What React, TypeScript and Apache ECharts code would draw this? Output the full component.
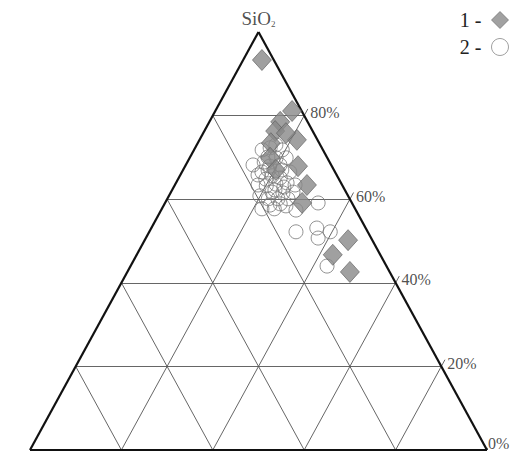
import React, { useEffect, useRef } from "react";
import * as echarts from "echarts";

// Ternary data: [SiO2 %, right-corner component %]
const GROUP1_SIO2 = [93.3, 81.1, 78.5, 76.3, 74.2, 73.4, 75.8, 69.9, 67.0, 67.9, 63.4, 59.1, 50.2, 46.7, 42.6];
const GROUP1_B = [4.1, 16.8, 15.5, 15.5, 21.3, 16.0, 18.1, 17.6, 20.3, 24.7, 28.9, 30.0, 44.5, 42.9, 48.7];

const GROUP2_SIO2 = [
  68.2, 71.8, 72.3, 71.8, 70.1, 69.9, 69.9, 68.2, 67.9, 66.5, 66.5, 65.6, 65.1, 63.9, 63.4, 63.2, 62.2, 61.5, 61.7,
  60.8, 60.1, 60.1, 60.1, 57.7, 57.7, 58.4, 57.4, 59.1, 52.2, 53.1, 50.7, 52.2, 44.0, 63.4, 64.8, 63.6, 61.7, 67.0,
  67.0, 65.8, 62.9, 58.6, 58.9, 68.9, 73.0,
];
const GROUP2_B = [
  14.7, 14.9, 16.4, 19.3, 17.0, 18.9, 21.1, 20.6, 18.5, 17.5, 23.6, 20.2, 22.2, 24.3, 18.2, 20.1, 22.5, 24.6, 26.7,
  19.9, 22.1, 24.2, 26.4, 21.9, 24.6, 26.8, 29.5, 33.5, 32.1, 36.2, 37.7, 39.6, 43.0, 26.3, 19.2, 22.0, 22.1, 21.6,
  18.6, 17.0, 24.1, 23.2, 25.3, 16.8, 17.3,
];

const SERIES_NAMES = ["1 -", "2 -"];
const GRID_LEVELS = [20, 40, 60, 80];
const TICK_LEVELS = [0, 20, 40, 60, 80];
const TICK_LABELS = ["0%", "20%", "40%", "60%", "80%"];
const APEX_LABEL = "SiO";
const APEX_SUB = "2";

// ternary (a = top %, b = right %) -> cartesian
const toXY = (a: number, b: number) => [b + a / 2, a];

export default function App() {
  const ref = useRef<HTMLDivElement>(null);
  useEffect(() => {
    if (!ref.current) return;
    const chart = echarts.init(ref.current, null, { renderer: "svg" });
    const font = "'Liberation Serif', 'Times New Roman', serif";

    const border = [
      { coords: [toXY(0, 0), toXY(0, 100)] },
      { coords: [toXY(0, 100), toXY(100, 0)] },
      { coords: [toXY(100, 0), toXY(0, 0)] },
    ];
    const grid: any[] = [];
    GRID_LEVELS.forEach((k) => {
      grid.push({ coords: [toXY(k, 0), toXY(k, 100 - k)] });
      grid.push({ coords: [toXY(0, k), toXY(100 - k, k)] });
      grid.push({ coords: [toXY(0, 100 - k), toXY(100 - k, 0)] });
    });
    TICK_LEVELS.forEach((k) => {
      const b = 100 - k;
      grid.push({ coords: [toXY(k, b), toXY(k + 1.6, b)] });
    });

    const g1 = GROUP1_SIO2.map((a, i) => toXY(a, GROUP1_B[i]));
    const g2 = GROUP2_SIO2.map((a, i) => toXY(a, GROUP2_B[i]));

    const tickData = TICK_LEVELS.map((k, i) => ({
      value: toXY(k, 100 - k),
      label: {
        formatter: TICK_LABELS[i],
        offset: k === 0 ? [-4, -7] : [1, -3],
      },
    }));

    chart.setOption({
      animation: false,
      grid: { left: 30, right: 33, top: 32, bottom: 7 },
      xAxis: { type: "value", min: 0, max: 100, show: false },
      yAxis: { type: "value", min: 0, max: 100, show: false },
      legend: {
        orient: "vertical",
        right: 6,
        top: 5,
        align: "right",
        itemWidth: 17,
        itemHeight: 17,
        itemGap: 7,
        textStyle: { fontFamily: font, fontSize: 20, color: "#222", padding: [0, 5, 0, 0] },
        data: [
          { name: SERIES_NAMES[0], icon: "diamond", itemStyle: { color: "#8a8a8a", borderColor: "#666", borderWidth: 0.8 } },
          { name: SERIES_NAMES[1], icon: "circle", itemStyle: { color: "#fff", borderColor: "#888", borderWidth: 1 } },
        ],
      },
      series: [
        {
          type: "lines",
          coordinateSystem: "cartesian2d",
          silent: true,
          data: grid,
          lineStyle: { color: "#555", width: 0.9, opacity: 1 },
          z: 1,
        },
        {
          type: "lines",
          coordinateSystem: "cartesian2d",
          silent: true,
          data: border,
          lineStyle: { color: "#111", width: 2.2, opacity: 1 },
          z: 2,
        },
        {
          name: SERIES_NAMES[1],
          type: "scatter",
          symbol: "circle",
          symbolSize: 14,
          data: g2,
          itemStyle: { color: "rgba(255,255,255,0)", borderColor: "#777", borderWidth: 1 },
          z: 3,
        },
        {
          name: SERIES_NAMES[0],
          type: "scatter",
          symbol: "diamond",
          symbolSize: [19, 21],
          data: g1,
          itemStyle: { color: "#888", borderColor: "#5a5a5a", borderWidth: 0.8 },
          z: 4,
        },
        {
          type: "scatter",
          silent: true,
          symbolSize: 0,
          data: tickData,
          label: {
            show: true,
            position: "right",
            distance: 5,
            fontFamily: font,
            fontSize: 16,
            color: "#222",
          },
          z: 5,
        },
        {
          type: "scatter",
          silent: true,
          symbolSize: 0,
          data: [toXY(100, 0)],
          label: {
            show: true,
            position: "top",
            distance: 4,
            formatter: `{a|${APEX_LABEL}}{b|${APEX_SUB}}`,
            rich: {
              a: { fontFamily: font, fontSize: 19, color: "#222", lineHeight: 20 },
              b: { fontFamily: font, fontSize: 9, color: "#222", verticalAlign: "bottom", lineHeight: 14 },
            },
          },
          z: 5,
        },
      ],
    });
    return () => chart.dispose();
  }, []);
  return <div ref={ref} style={{ position: "absolute", left: 0, top: 0, width: 520, height: 457 }} />;
}
